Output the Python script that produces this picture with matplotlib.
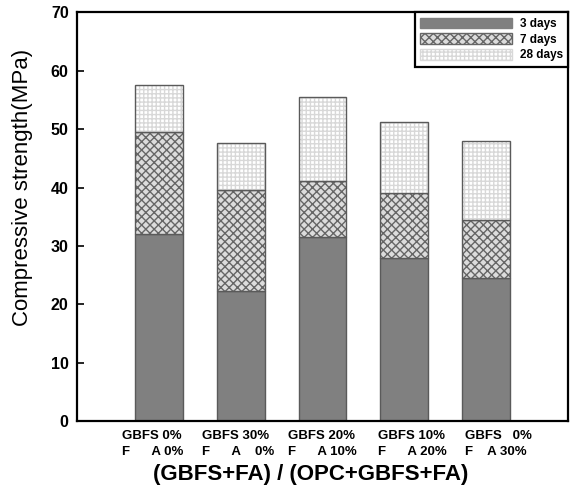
import numpy as np
import matplotlib
matplotlib.use("Agg")
from matplotlib import pyplot as plt
from matplotlib.patches import Patch
import matplotlib.transforms as mtransforms

plt.rcParams['font.family'] = ['Liberation Sans', 'DejaVu Sans']

# data
groups = ["GBFS 0%\nF      A 0%",
          "GBFS 30%\nF      A    0%",
          "GBFS 20%\nF      A 10%",
          "GBFS 10%\nF      A 20%",
          "GBFS   0%\nF    A 30%"]
day3 = [32.0, 22.2, 31.5, 28.0, 24.5]
day7 = [49.5, 39.5, 41.1, 39.0, 34.5]    # cumulative tops
day28 = [57.5, 47.6, 55.6, 51.3, 48.0]   # cumulative tops

x = np.arange(1, len(groups) + 1)
d3 = np.array(day3)
d7 = np.array(day7) - d3
d28 = np.array(day28) - np.array(day7)

fig = plt.figure(figsize=(5.73, 4.86), dpi=100)
ax = fig.add_axes([0.1344, 0.1337, 0.8569, 0.8406])

w = 0.585
edge = "#5a5a5a"
styles = [
    dict(face="#808080", hatch=None, hcol="#808080"),
    dict(face="#dcdcdc", hatch="xxxx", hcol="#666666"),
    dict(face="#ffffff", hatch="++++", hcol="#d8d8d8"),
]
plt.rcParams['hatch.linewidth'] = 1.0

bottoms = [np.zeros(5), d3, d3 + d7]
heights = [d3, d7, d28]
for h, b, st in zip(heights, bottoms, styles):
    ax.bar(x, h, w, bottom=b, color=st["face"], hatch=st["hatch"],
           edgecolor=st["hcol"], linewidth=0)
    ax.bar(x, h, w, bottom=b, fill=False, edgecolor=edge, linewidth=1.0)

ax.set_xlim(0, 6)
ax.set_ylim(0, 70)
ax.set_yticks(range(0, 71, 10))
ax.set_xticks([])
ax.tick_params(axis='y', direction='in', length=5, width=1.2, labelsize=11.5, pad=6)
for lab in ax.get_yticklabels():
    lab.set_fontweight('bold')
for sp in ax.spines.values():
    sp.set_linewidth(1.6)

# group labels below the axis
offsets = [-0.45, -0.47, -0.42, -0.32, -0.26]
trans = mtransforms.blended_transform_factory(ax.transData, ax.transAxes)
for xi, off, g in zip(x, offsets, groups):
    ax.text(xi + off, -0.022, g, transform=trans, ha='left', va='top',
            fontsize=9.5, fontweight='bold', linespacing=1.45, multialignment='left')

ax.set_xlabel("(GBFS+FA) / (OPC+GBFS+FA)", fontsize=16, fontweight='bold')
ax.xaxis.set_label_coords((311 - 77) / 491, -(475 - 421) / 409)
ax.xaxis.label.set_va('center')
ax.set_ylabel("Compressive strength(MPa)", fontsize=16)
ax.yaxis.set_label_coords(-0.112, 0.572)
ax.yaxis.label.set_va('center')

handles = [Patch(facecolor=st["face"], hatch=st["hatch"], edgecolor=st["hcol"], linewidth=1)
           for st in styles]
leg = ax.legend(handles, ["3 days", "7 days", "28 days"], loc='upper right',
                borderaxespad=0, fancybox=False, framealpha=1, edgecolor='black',
                prop=dict(size=8.5, weight='bold'), handlelength=7.8, handleheight=1.0,
                labelspacing=0.28, handletextpad=0.6, borderpad=0.45)
leg.get_frame().set_linewidth(1.6)

fig.savefig("out.png", dpi=100)
